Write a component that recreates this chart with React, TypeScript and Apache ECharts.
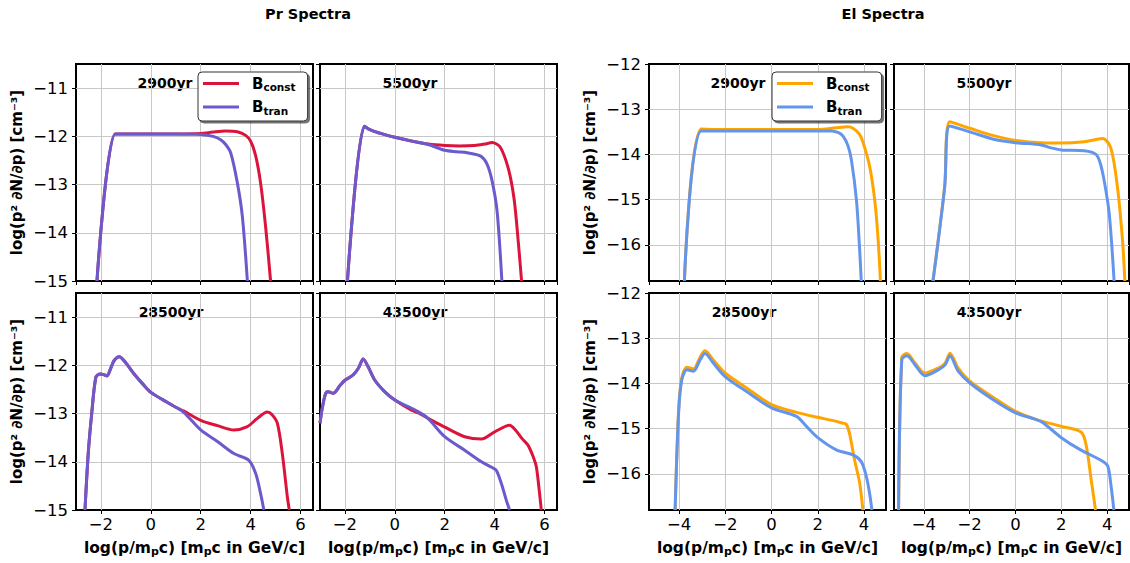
import React, { useEffect, useRef } from "react";
import * as echarts from "echarts";

const FONT = "DejaVu Sans";

// ---------- text ----------
const groupTitles = ["Pr Spectra", "El Spectra"];
const panelYears = ["2900yr", "5500yr", "28500yr", "43500yr"];
const xAxisTitle = "log(p/m{s|p}c) [m{s|p}c in GeV/c]";
const yAxisTitle = "log(p² ∂N/∂p) [cm⁻³]";

// ---------- axis ranges ----------
const prXRange = [-3, 6.5];
const prYRange = [-15, -10.5];
const elXRange = [-5.3, 4.95];
const elYRange = [-16.8, -12];

// ---------- proton spectra [log p, log spectrum] ----------
const pr2900Const = [[-2.16,-15],[-1.43,-11.95],[-1,-11.95],[0,-11.95],[1,-11.95],[2,-11.94],[2.5,-11.91],[3,-11.89],[3.5,-11.91],[3.8,-11.98],[4.0,-12.1],[4.2,-12.4],[4.4,-12.97],[4.6,-13.87],[4.8,-15]];
const pr2900Tran = [[-2.16,-15],[-1.43,-11.95],[-1,-11.95],[0,-11.95],[1,-11.95],[2,-11.96],[2.5,-12.0],[2.8,-12.07],[3.0,-12.17],[3.2,-12.34],[3.47,-12.97],[3.67,-13.67],[3.87,-15]];

const pr5500Const = [[-1.9,-15],[-1.22,-11.79],[-1,-11.86],[-0.5,-11.95],[0,-12.02],[0.7,-12.1],[1.34,-12.16],[2.0,-12.19],[2.6,-12.2],[3.2,-12.19],[3.6,-12.16],[3.9,-12.13],[4.22,-12.22],[4.55,-12.67],[4.78,-13.3],[4.95,-14.2],[5.08,-15]];
const pr5500Tran = [[-1.9,-15],[-1.22,-11.79],[-1,-11.86],[-0.5,-11.95],[0,-12.02],[0.7,-12.1],[1.34,-12.17],[2.0,-12.29],[2.5,-12.32],[2.9,-12.34],[3.44,-12.41],[3.7,-12.58],[3.9,-12.93],[4.1,-13.56],[4.29,-15]];

const pr28500Const = [[-2.64,-15],[-2.51,-13.83],[-2.37,-13.0],[-2.2,-12.24],[-2.03,-12.18],[-1.85,-12.2],[-1.76,-12.22],[-1.6,-12.05],[-1.47,-11.9],[-1.27,-11.82],[-1.0,-11.95],[-0.67,-12.18],[-0.3,-12.4],[0,-12.56],[0.67,-12.77],[1.0,-12.87],[1.33,-12.95],[2.0,-13.14],[2.67,-13.25],[3.33,-13.34],[3.87,-13.27],[4.27,-13.1],[4.67,-12.97],[4.85,-13.02],[5.07,-13.2],[5.27,-13.83],[5.47,-14.72],[5.55,-15]];
const pr28500Tran = [[-2.64,-15],[-2.51,-13.83],[-2.37,-13.0],[-2.2,-12.24],[-2.03,-12.18],[-1.85,-12.2],[-1.76,-12.22],[-1.6,-12.05],[-1.47,-11.9],[-1.27,-11.82],[-1.0,-11.95],[-0.67,-12.18],[-0.3,-12.4],[0,-12.56],[0.67,-12.77],[1.0,-12.87],[1.33,-12.98],[2.0,-13.34],[2.67,-13.58],[3.33,-13.83],[3.93,-13.97],[4.2,-14.24],[4.4,-14.66],[4.53,-15]];

const pr43500Const = [[-3.0,-13.2],[-2.9,-12.86],[-2.77,-12.58],[-2.67,-12.55],[-2.47,-12.58],[-2.2,-12.42],[-2.0,-12.31],[-1.67,-12.2],[-1.45,-12.05],[-1.27,-11.87],[-1.07,-12.03],[-0.8,-12.31],[-0.4,-12.55],[0,-12.72],[0.67,-12.93],[1.0,-13.0],[1.33,-13.1],[2.0,-13.28],[2.8,-13.48],[3.47,-13.53],[4.0,-13.38],[4.6,-13.24],[4.85,-13.35],[5.1,-13.52],[5.33,-13.65],[5.55,-13.9],[5.67,-14.1],[5.8,-14.65],[5.87,-15]];
const pr43500Tran = [[-3.0,-13.2],[-2.9,-12.86],[-2.77,-12.58],[-2.67,-12.55],[-2.47,-12.58],[-2.2,-12.42],[-2.0,-12.31],[-1.67,-12.2],[-1.45,-12.05],[-1.27,-11.87],[-1.07,-12.03],[-0.8,-12.31],[-0.4,-12.55],[0,-12.72],[0.67,-12.89],[0.93,-12.96],[1.33,-13.1],[2.0,-13.48],[2.8,-13.76],[3.47,-14.0],[3.9,-14.12],[4.07,-14.18],[4.27,-14.45],[4.47,-14.8],[4.6,-15]];

// ---------- electron spectra ----------
const el2900Const = [[-3.77,-16.8],[-3.04,-13.44],[-2,-13.45],[0,-13.45],[2,-13.45],[2.8,-13.41],[3.3,-13.39],[3.52,-13.42],[3.8,-13.55],[3.96,-13.74],[4.24,-14.26],[4.46,-15.0],[4.6,-15.81],[4.71,-16.8]];
const el2900Tran = [[-3.77,-16.8],[-3.04,-13.48],[-2,-13.48],[0,-13.48],[2,-13.48],[2.6,-13.48],[2.9,-13.52],[3.1,-13.6],[3.3,-13.8],[3.45,-14.11],[3.67,-15.0],[3.81,-16.1],[3.88,-16.8]];

const el5500Const = [[-3.6,-16.8],[-3.09,-14.7],[-2.87,-13.28],[-2.0,-13.42],[-0.91,-13.59],[0,-13.69],[1.12,-13.74],[2.0,-13.75],[3.0,-13.72],[3.8,-13.65],[4.16,-13.86],[4.45,-14.74],[4.67,-15.92],[4.77,-16.8]];
const el5500Tran = [[-3.6,-16.8],[-3.09,-14.73],[-2.87,-13.37],[-2.0,-13.5],[-0.91,-13.67],[0,-13.74],[1.12,-13.79],[1.5,-13.85],[2.0,-13.9],[3.0,-13.92],[3.51,-14.0],[3.7,-14.2],[3.87,-14.59],[4.09,-15.32],[4.3,-16.8]];

const el28500Const = [[-4.17,-16.8],[-4.02,-14.6],[-3.88,-13.87],[-3.66,-13.64],[-3.38,-13.68],[-3.09,-13.42],[-2.88,-13.28],[-2.52,-13.48],[-2.01,-13.77],[-1.08,-14.1],[0,-14.47],[1.08,-14.64],[2.0,-14.75],[2.8,-14.84],[3.09,-14.88],[3.23,-14.9],[3.37,-15.1],[3.59,-15.69],[3.81,-16.2],[3.95,-16.8]];
const el28500Tran = [[-4.17,-16.8],[-4.02,-14.65],[-3.88,-13.92],[-3.66,-13.7],[-3.38,-13.73],[-3.09,-13.48],[-2.88,-13.34],[-2.52,-13.55],[-2.01,-13.85],[-1.08,-14.18],[0,-14.54],[1.08,-14.73],[1.51,-14.95],[2.0,-15.2],[2.8,-15.47],[3.52,-15.58],[3.88,-15.73],[4.1,-16.06],[4.24,-16.43],[4.34,-16.8]];

const el43500Const = [[-5.1,-16.8],[-4.96,-13.42],[-4.74,-13.34],[-4.38,-13.55],[-3.95,-13.77],[-3.37,-13.66],[-3.07,-13.55],[-2.86,-13.33],[-2.5,-13.66],[-1.99,-13.95],[-0.97,-14.31],[0,-14.62],[0.91,-14.8],[2.0,-14.95],[2.87,-15.08],[3.09,-15.39],[3.3,-16.13],[3.49,-16.8]];
const el43500Tran = [[-5.1,-16.8],[-4.96,-13.47],[-4.74,-13.39],[-4.38,-13.59],[-3.95,-13.83],[-3.37,-13.7],[-3.07,-13.59],[-2.86,-13.39],[-2.5,-13.73],[-1.99,-13.99],[-0.97,-14.36],[0,-14.65],[0.91,-14.8],[1.2,-14.87],[2.0,-15.2],[2.8,-15.46],[3.8,-15.72],[4.03,-15.84],[4.17,-16.28],[4.29,-16.8]];

const prConst = [pr2900Const, pr5500Const, pr28500Const, pr43500Const];
const prTran = [pr2900Tran, pr5500Tran, pr28500Tran, pr43500Tran];
const elConst = [el2900Const, el5500Const, el28500Const, el43500Const];
const elTran = [el2900Tran, el5500Tran, el28500Tran, el43500Tran];

// ---------- layout & style ----------
const COLORS = {
  prConst: "#dc143c",
  prTran: "#6a5acd",
  elConst: "#ffa500",
  elTran: "#6495ed",
};

const groupLayout = [
  { lefts: [76, 320], titleX: 308, legendX: 198 },
  { lefts: [649, 894], titleX: 883, legendX: 772 },
];
const rowTops = [64, 293];
const panelH = 217;
const panelWidths = [[237, 237], [237, 235]];
const yearOffsets = [89, 90, 95, 95];

const minusFmt = (v: number) => (v < 0 ? "\u2212" + Math.abs(v) : String(v));

function buildOption() {
  const grid: any[] = [];
  const xAxis: any[] = [];
  const yAxis: any[] = [];
  const series: any[] = [];
  const graphic: any[] = [];

  for (let g = 0; g < 2; g++) {
    const isPr = g === 0;
    const xr = isPr ? prXRange : elXRange;
    const yr = isPr ? prYRange : elYRange;
    const cData = isPr ? prConst : elConst;
    const tData = isPr ? prTran : elTran;
    const cColor = isPr ? COLORS.prConst : COLORS.elConst;
    const tColor = isPr ? COLORS.prTran : COLORS.elTran;
    const prefix = isPr ? "Pr" : "El";

    graphic.push({
      type: "text",
      x: groupLayout[g].titleX,
      y: 14,
      style: {
        text: groupTitles[g],
        font: `bold 14.5px "${FONT}"`,
        fill: "#000",
        align: "center",
        verticalAlign: "middle",
        textAlign: "center",
        textVerticalAlign: "middle",
      },
    });

    for (let p = 0; p < 4; p++) {
      const row = Math.floor(p / 2);
      const col = p % 2;
      const idx = g * 4 + p;
      const left = groupLayout[g].lefts[col];
      const top = rowTops[row];
      const width = panelWidths[g][col];
      const isBottom = row === 1;
      const isLeft = col === 0;

      grid.push({
        left,
        top,
        width,
        height: panelH,
        show: true,
        borderColor: "#000",
        borderWidth: 2,
        backgroundColor: "transparent",
        containLabel: false,
        outerBoundsMode: "none",
      });

      xAxis.push({
        gridIndex: idx,
        type: "value",
        min: xr[0],
        max: xr[1],
        splitNumber: 5,
        minInterval: 2,
        maxInterval: 2,
        axisLine: { show: false, onZero: false },
        axisTick: { show: true, length: 4, lineStyle: { color: "#000", width: 1 } },
        axisLabel: {
          show: isBottom,
          showMinLabel: false,
          showMaxLabel: false,
          formatter: minusFmt,
          fontFamily: FONT,
          fontSize: 16.5,
          color: "#000",
          margin: 6,
        },
        splitLine: {
          show: true,
          showMinLine: false,
          showMaxLine: false,
          lineStyle: { color: "#c8c8c8", width: 1 },
        },
        name: isBottom ? xAxisTitle : "",
        nameLocation: "middle",
        nameGap: 28,
        nameTextStyle: {
          fontFamily: FONT,
          fontWeight: "bold",
          fontSize: 15.5,
          color: "#000",
          lineHeight: 19,
          rich: {
            s: {
              fontFamily: FONT,
              fontWeight: "bold",
              fontSize: 11,
              lineHeight: 11,
              verticalAlign: "bottom",
              color: "#000",
            },
          },
        },
      });

      yAxis.push({
        gridIndex: idx,
        type: "value",
        min: yr[0],
        max: yr[1],
        splitNumber: 5,
        minInterval: 1,
        maxInterval: 1,
        axisLine: { show: false, onZero: false },
        axisTick: { show: true, length: 4, lineStyle: { color: "#000", width: 1 } },
        axisLabel: {
          show: isLeft,
          showMinLabel: isPr,
          showMaxLabel: !isPr,
          formatter: minusFmt,
          fontFamily: FONT,
          fontSize: 16.5,
          color: "#000",
          margin: 8,
        },
        splitLine: {
          show: true,
          showMinLine: false,
          showMaxLine: false,
          lineStyle: { color: "#c8c8c8", width: 1 },
        },
        name: isLeft ? yAxisTitle : "",
        nameLocation: "middle",
        nameGap: 52,
        nameTextStyle: {
          fontFamily: FONT,
          fontWeight: "bold",
          fontSize: 15,
          color: "#000",
        },
      });

      const common = {
        type: "line",
        xAxisIndex: idx,
        yAxisIndex: idx,
        showSymbol: false,
        symbol: "none",
        smooth: 0.3,
        clip: true,
        z: 3,
      };
      series.push({
        ...common,
        name: `${prefix} const`,
        data: cData[p],
        color: cColor,
        itemStyle: { color: cColor },
        lineStyle: { width: 3, color: cColor },
      });
      series.push({
        ...common,
        name: `${prefix} tran`,
        data: tData[p],
        color: tColor,
        itemStyle: { color: tColor },
        lineStyle: { width: 3, color: tColor },
      });

      graphic.push({
        type: "text",
        x: left + yearOffsets[p],
        y: top + 19,
        style: {
          text: panelYears[p],
          font: `bold 14px "${FONT}"`,
          fill: "#000",
          align: "center",
          verticalAlign: "middle",
          textAlign: "center",
          textVerticalAlign: "middle",
        },
      });
    }
  }

  const legendRich = {
    sp: { width: 8 },
    b: { fontFamily: FONT, fontWeight: "bold", fontSize: 15, lineHeight: 18, color: "#000" },
    s: {
      fontFamily: FONT,
      fontWeight: "bold",
      fontSize: 10.5,
      lineHeight: 10,
      verticalAlign: "bottom",
      color: "#000",
    },
  };
  const legend = ["Pr", "El"].map((pre, g) => ({
    left: groupLayout[g].legendX,
    top: 72,
    orient: "vertical",
    data: [`${pre} const`, `${pre} tran`],
    icon: "rect",
    itemWidth: 36,
    itemHeight: 3,
    itemGap: 7,
    padding: [4, 12, 5, 5],
    backgroundColor: "#fff",
    borderColor: "#333",
    borderWidth: 1,
    borderRadius: 4,
    shadowColor: "rgba(0,0,0,0.55)",
    shadowOffsetX: 2,
    shadowOffsetY: 2,
    shadowBlur: 0,
    selectedMode: false,
    formatter: (n: string) => (n.endsWith("const") ? "{sp|}{b|B}{s|const}" : "{sp|}{b|B}{s|tran}"),
    textStyle: { rich: legendRich },
  }));

  return {
    animation: false,
    backgroundColor: "#fff",
    textStyle: { fontFamily: FONT },
    grid,
    xAxis,
    yAxis,
    series,
    legend,
    graphic,
  };
}

export default function App() {
  const ref = useRef<HTMLDivElement>(null);
  useEffect(() => {
    if (!ref.current) return;
    const chart = echarts.init(ref.current, undefined, { renderer: "svg" });
    chart.setOption(buildOption() as any);
    return () => chart.dispose();
  }, []);
  return (
    <div
      ref={ref}
      style={{ position: "absolute", left: 0, top: 0, width: "1130px", height: "563px", background: "#fff" }}
    />
  );
}
